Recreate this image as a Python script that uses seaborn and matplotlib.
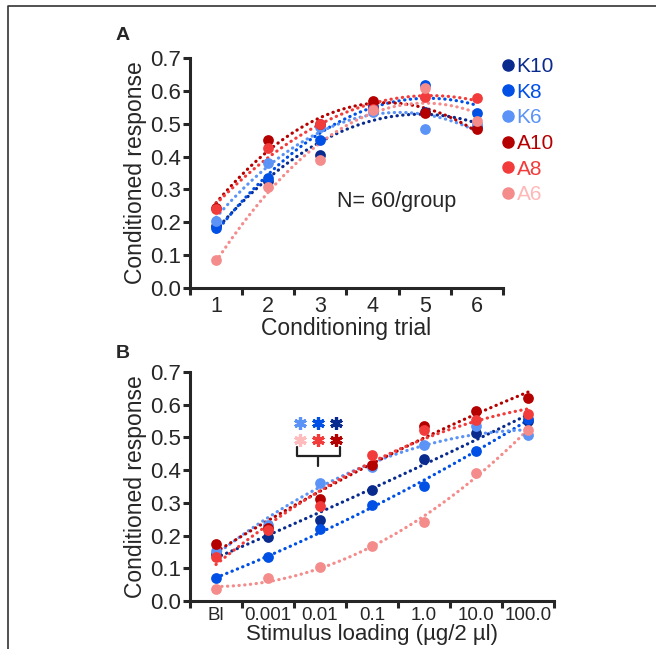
import matplotlib
matplotlib.use("Agg")
import matplotlib.pyplot as plt
from matplotlib.lines import Line2D
import numpy as np
import pandas as pd
import seaborn as sns

# groups and colours
groups = ["K10", "K8", "K6", "A10", "A8", "A6"]
colors = ["#0a2b8e", "#0050e6", "#5b93f7", "#b50000", "#f23c3c", "#f58c8c"]
text_colors = ["#0a2b8e", "#0050e6", "#5b93f7", "#b50000", "#f23c3c", "#ffb8b8"]

# panel A: conditioning trials
trials = [1, 2, 3, 4, 5, 6]
trial_resp = {
    "K10": [0.19, 0.325, 0.406, 0.55, 0.535, 0.49],
    "K8": [0.183, 0.335, 0.451, 0.55, 0.619, 0.533],
    "K6": [0.203, 0.382, 0.49, 0.535, 0.484, 0.50],
    "A10": [0.245, 0.449, 0.50, 0.57, 0.533, 0.484],
    "A8": [0.24, 0.426, 0.50, 0.545, 0.58, 0.578],
    "A6": [0.086, 0.307, 0.39, 0.543, 0.609, 0.507],
}

# panel B: stimulus loading
doses = ["Bl", "0.001", "0.01", "0.1", "1.0", "10.0", "100.0"]
dose_resp = {
    "K10": [0.145, 0.195, 0.248, 0.34, 0.434, 0.515, 0.55],
    "K8": [0.069, 0.134, 0.219, 0.294, 0.352, 0.459, 0.557],
    "K6": [0.154, 0.233, 0.36, 0.409, 0.476, 0.534, 0.508],
    "A10": [0.174, 0.222, 0.311, 0.416, 0.536, 0.58, 0.62],
    "A8": [0.134, 0.217, 0.291, 0.447, 0.523, 0.554, 0.572],
    "A6": [0.037, 0.069, 0.103, 0.169, 0.24, 0.391, 0.523],
}

# significance marks (blue row / red row)
star_x = [1.61, 1.97, 2.30]
star_blue = ["#5b93f7", "#0050e6", "#0a2b8e"]
star_red = ["#ffbcbc", "#f23c3c", "#b50000"]

sns.set_style("ticks")
plt.rcParams["font.family"] = ["Liberation Sans", "DejaVu Sans"]

fig = plt.figure(figsize=(6.56, 6.49), dpi=100)
ax_a = fig.add_axes([0.2896, 0.5562, 0.4771, 0.3544])
ax_b = fig.add_axes([0.2896, 0.0740, 0.5549, 0.3528])

line_style = dict(ls=(0, (0.1, 1.7)), lw=2.3, dash_capstyle="round")


def draw(ax, x, resp):
    for g, c in zip(groups, colors):
        df = pd.DataFrame({"x": x, "y": resp[g]})
        sns.regplot(data=df, x="x", y="y", order=2, ci=None, ax=ax, color=c,
                    scatter_kws=dict(s=60, alpha=1, linewidths=0, zorder=3),
                    line_kws=dict(**line_style, zorder=2))


def style(ax, n_cat, start, labels, xsize, xpad):
    ax.set_ylim(0, 0.7)
    ax.set_xlim(start - 0.5, start + n_cat - 0.5)
    ax.set_yticks(np.arange(0, 0.71, 0.1))
    ax.set_yticklabels([f"{v:.1f}" for v in np.arange(0, 0.71, 0.1)])
    ax.set_xticks(np.arange(start, start + n_cat))
    ax.set_xticklabels(labels)
    ax.set_xticks(np.arange(start - 0.5, start + n_cat, 1), minor=True)
    ax.tick_params(axis="x", which="major", length=0, pad=xpad, labelsize=xsize)
    ax.tick_params(axis="x", which="minor", length=5, width=2.2, direction="out")
    ax.tick_params(axis="y", length=5, width=2.2, labelsize=16, pad=1.5)
    sns.despine(ax=ax)
    for s in ["left", "bottom"]:
        ax.spines[s].set_linewidth(2.2)
    ax.set_ylabel("Conditioned response", fontsize=16.5, labelpad=2)


draw(ax_a, trials, trial_resp)
style(ax_a, 6, 1, [str(t) for t in trials], 15.5, 6)
ax_a.set_xlabel("Conditioning trial", fontsize=16.5, labelpad=0)
ax_a.text(4.47, 0.262, "N= 60/group", fontsize=15.5, ha="center", va="center")

handles = [Line2D([], [], marker="o", ls="", color=c, ms=8) for c in colors]
ax_a.legend(handles, groups, loc="upper left", bbox_to_anchor=(1.0, 1.005),
            frameon=False, fontsize=15, handlelength=0.5, handletextpad=0.15,
            labelspacing=0.32, borderaxespad=0, borderpad=0,
            labelcolor=text_colors)

draw(ax_b, list(range(len(doses))), dose_resp)
style(ax_b, 7, 0, doses, 13.5, 4)
ax_b.set_xlabel("Stimulus loading (\u00b5g/2 \u00b5l)", fontsize=16, labelpad=0)

for xs, cb, cr in zip(star_x, star_blue, star_red):
    ax_b.plot(xs, 0.544, marker=(6, 2, 0), ms=9, mew=2.3, color=cb)
    ax_b.plot(xs, 0.493, marker=(6, 2, 0), ms=9, mew=2.3, color=cr)
ax_b.plot([1.55, 1.55, 2.39, 2.39], [0.472, 0.444, 0.444, 0.472], color="#222222", lw=1.6)
ax_b.plot([1.97, 1.97], [0.444, 0.414], color="#222222", lw=1.6)

fig.text(123 / 656, 1 - 35 / 649, "A", fontsize=14, fontweight="bold", ha="center", va="center")
fig.text(123 / 656, 1 - 353 / 649, "B", fontsize=14, fontweight="bold", ha="center", va="center")

# open frame around the figure panel
fig.add_artist(Line2D([8 / 656, 8 / 656, 1.0], [0.0, 1 - 6 / 649, 1 - 6 / 649],
                      color="#333333", lw=1.2, transform=fig.transFigure))

fig.savefig("out.png", dpi=100)
